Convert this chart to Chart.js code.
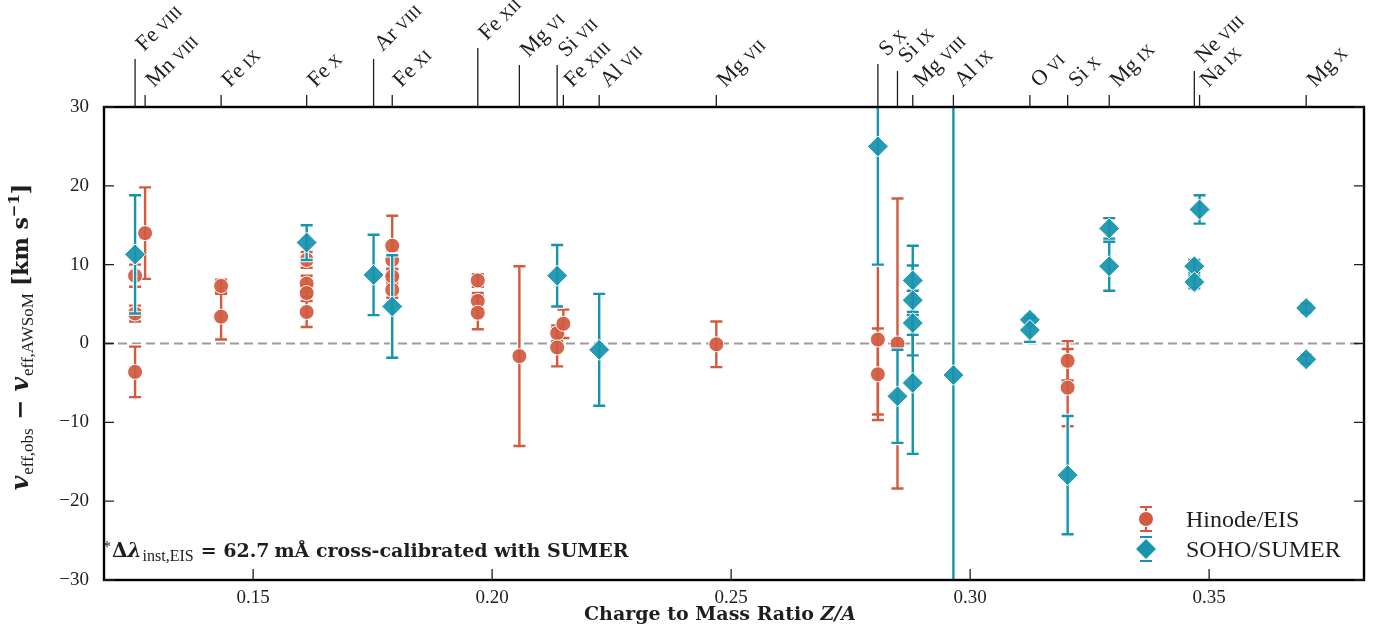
<!DOCTYPE html>
<html>
<head>
<meta charset="utf-8">
<script src="https://cdn.jsdelivr.net/npm/chart.js@4.4.1/dist/chart.umd.min.js"></script>
<style>
  html, body { margin: 0; padding: 0; background: #fff; }
</style>
</head>
<body>
<canvas id="myChart" width="1385" height="635"></canvas>
<script>
// axis ticks
var xTicks = [0.15, 0.20, 0.25, 0.30, 0.35];
var yTicks = [-30, -20, -10, 0, 10, 20, 30];

// ions marked along the top axis (charge to mass ratio)
var ionNames  = ["Fe", "Mn", "Fe", "Fe", "Ar", "Fe", "Fe", "Mg", "Si", "Fe", "Al", "Mg", "S", "Si", "Mg", "Al", "O", "Si", "Mg", "Ne", "Na", "Mg"];
var ionStages = ["viii", "viii", "ix", "x", "viii", "xi", "xii", "vi", "vii", "xiii", "vii", "vii", "x", "ix", "viii", "ix", "vi", "x", "ix", "viii", "ix", "x"];
var ionZA     = [0.1253, 0.1274, 0.1433, 0.1612, 0.1752, 0.1791, 0.1970, 0.2057, 0.2136, 0.2149, 0.2224, 0.2469,
                 0.2807, 0.2848, 0.2880, 0.2965, 0.3125, 0.3204, 0.3291, 0.3469, 0.3480, 0.3703];
// tick lengths (px) so crowded labels are staggered
var ionTickLen = [48, 12, 12, 12, 48, 12, 59, 42, 42, 12, 12, 12, 43, 36, 12, 12, 12, 12, 12, 36, 12, 12];

// Hinode/EIS
var eisZA  = [0.1253, 0.1253, 0.1253, 0.1274, 0.1433, 0.1433, 0.1612, 0.1612, 0.1612, 0.1612,
              0.1791, 0.1791, 0.1791, 0.1791, 0.1970, 0.1970, 0.1970, 0.2057, 0.2136, 0.2136,
              0.2149, 0.2469, 0.2807, 0.2807, 0.2848, 0.3204, 0.3204];
var eisV   = [8.6, 3.8, -3.6, 14.0, 7.3, 3.4, 10.6, 7.6, 6.4, 4.0,
              12.4, 10.6, 8.5, 6.8, 8.0, 5.4, 3.9, -1.6, 1.3, -0.5,
              2.5, -0.1, 0.5, -3.9, 0.0, -2.2, -5.6];
var eisErr = [1.4, 1.0, 3.2, 5.8, 0.8, 2.9, 1.0, 1.0, 1.0, 1.9,
              3.8, 1.2, 1.0, 1.0, 0.8, 1.0, 2.1, 11.4, 1.0, 2.4,
              1.8, 2.9, 9.5, 5.8, 18.4, 2.5, 4.9];

// SOHO/SUMER
var sumerZA  = [0.1253, 0.1612, 0.1752, 0.1791, 0.2136, 0.2224, 0.2807, 0.2848, 0.2880, 0.2880,
                0.2880, 0.2880, 0.2965, 0.3125, 0.3125, 0.3204, 0.3291, 0.3291, 0.3469, 0.3469,
                0.3480, 0.3703, 0.3703];
var sumerV   = [11.3, 12.8, 8.7, 4.7, 8.6, -0.8, 25.0, -6.7, 8.0, 5.5,
                2.6, -5.0, -4.0, 3.0, 1.7, -16.7, 14.6, 9.8, 9.8, 7.8,
                17.0, 4.5, -2.0];
var sumerErr = [7.5, 2.2, 5.1, 6.5, 3.9, 7.1, 15.0, 5.9, 4.4, 4.4,
                4.1, 9.0, 45.0, 0.6, 1.5, 7.5, 1.3, 3.1, 0.8, 0.8,
                1.8, 0.6, 0.6];

var RED = "#d15a3f";
var BLUE = "#1793ad";
var INK = "#1e1e1e";
var SERIF = '"Liberation Serif", "DejaVu Serif", serif';
var BOLDSERIF = '"DejaVu Serif", "Liberation Serif", serif';

function points(xs, ys) {
    return xs.map(function (x, i) { return { x: x, y: ys[i] }; });
}

function drawErrorBars(chart, xs, ys, errs, color) {
    var ctx = chart.ctx, sx = chart.scales.x, sy = chart.scales.y, a = chart.chartArea;
    ctx.save();
    ctx.beginPath();
    ctx.rect(a.left, a.top, a.right - a.left, a.bottom - a.top);
    ctx.clip();
    [["#ffffff", 4.6, 7.5], [color, 2.4, 6]].forEach(function (pass) {
        ctx.strokeStyle = pass[0];
        ctx.lineWidth = pass[1];
        var cap = pass[2];
        for (var i = 0; i < xs.length; i++) {
            var px = sx.getPixelForValue(xs[i]);
            var top = sy.getPixelForValue(ys[i] + errs[i]);
            var bot = sy.getPixelForValue(ys[i] - errs[i]);
            ctx.beginPath();
            ctx.moveTo(px, top); ctx.lineTo(px, bot);
            ctx.moveTo(px - cap, top); ctx.lineTo(px + cap, top);
            ctx.moveTo(px - cap, bot); ctx.lineTo(px + cap, bot);
            ctx.stroke();
        }
    });
    ctx.restore();
}

// writes a run of differently styled pieces, returns the end x
function drawRuns(ctx, runs, x, y) {
    runs.forEach(function (r) {
        ctx.font = r.f;
        ctx.fillText(r.t, x, y + (r.dy || 0));
        x += ctx.measureText(r.t).width + (r.gap || 0);
    });
    return x;
}
function runsWidth(ctx, runs) {
    var w = 0;
    runs.forEach(function (r) { ctx.font = r.f; w += ctx.measureText(r.t).width + (r.gap || 0); });
    return w;
}

var decor = {
    id: "decor",
    beforeDatasetsDraw: function (chart) {
        var ctx = chart.ctx, a = chart.chartArea, y0 = chart.scales.y.getPixelForValue(0);
        ctx.save();
        ctx.strokeStyle = "#9b9b9b";
        ctx.lineWidth = 1.8;
        ctx.setLineDash([9, 5]);
        ctx.beginPath();
        ctx.moveTo(a.left, y0); ctx.lineTo(a.right, y0);
        ctx.stroke();
        ctx.restore();
    },
    beforeDatasetDraw: function (chart, args) {
        if (args.index === 0) drawErrorBars(chart, eisZA, eisV, eisErr, RED);
        else drawErrorBars(chart, sumerZA, sumerV, sumerErr, BLUE);
    },
    afterDraw: function (chart) {
        var ctx = chart.ctx, a = chart.chartArea, sx = chart.scales.x, sy = chart.scales.y;
        ctx.save();

        // frame
        ctx.strokeStyle = "#000";
        ctx.lineWidth = 2.4;
        ctx.strokeRect(a.left, a.top, a.right - a.left, a.bottom - a.top);

        // inward ticks
        ctx.lineWidth = 1.3;
        ctx.strokeStyle = INK;
        ctx.beginPath();
        xTicks.forEach(function (v) {
            var px = sx.getPixelForValue(v);
            ctx.moveTo(px, a.bottom); ctx.lineTo(px, a.bottom - 11);
        });
        yTicks.forEach(function (v) {
            var py = sy.getPixelForValue(v);
            ctx.moveTo(a.left, py); ctx.lineTo(a.left + 10, py);
            ctx.moveTo(a.right, py); ctx.lineTo(a.right - 10, py);
        });
        ctx.stroke();

        // ion ticks and labels on top
        ctx.fillStyle = INK;
        ctx.textBaseline = "alphabetic";
        ctx.textAlign = "left";
        for (var i = 0; i < ionZA.length; i++) {
            var px = sx.getPixelForValue(ionZA[i]);
            var tipY = a.top - ionTickLen[i];
            ctx.beginPath();
            ctx.moveTo(px, a.top); ctx.lineTo(px, tipY);
            ctx.stroke();
            ctx.save();
            ctx.translate(px + 9, tipY - 7);
            ctx.rotate(-Math.PI / 4);
            drawRuns(ctx, [
                { t: ionNames[i], f: "22px " + SERIF, gap: 5 },
                { t: ionStages[i].toUpperCase(), f: "16.5px " + SERIF }
            ], 0, 0);
            ctx.restore();
        }

        // x title
        var xt = [
            { t: "Charge to Mass Ratio ", f: "bold 19px " + BOLDSERIF },
            { t: "Z/A", f: "italic bold 19px " + BOLDSERIF }
        ];
        drawRuns(ctx, xt, 720 - runsWidth(ctx, xt) / 2, 620);

        // y title
        var big = "bold italic 25px " + BOLDSERIF, sub = "17px " + SERIF;
        var yt = [
            { t: "v", f: big, gap: 1 },
            { t: "eff,obs", f: sub, dy: 5 },
            { t: " \u2212 ", f: "bold 24px " + BOLDSERIF },
            { t: "v", f: big, gap: 1 },
            { t: "eff,AWSoM", f: sub, dy: 5, gap: 7 },
            { t: "[km s", f: "bold 22px " + BOLDSERIF },
            { t: "\u22121", f: "bold 15px " + BOLDSERIF, dy: -9 },
            { t: "]", f: "bold 22px " + BOLDSERIF }
        ];
        ctx.save();
        ctx.translate(28, 337);
        ctx.rotate(-Math.PI / 2);
        drawRuns(ctx, yt, -runsWidth(ctx, yt) / 2, 0);
        ctx.restore();

        // calibration note
        drawRuns(ctx, [
            { t: "*", f: "16px " + SERIF, dy: -5, gap: 1 },
            { t: "\u0394", f: "bold 20px " + BOLDSERIF },
            { t: "\u03bb", f: "bold italic 20px " + BOLDSERIF, gap: 1 },
            { t: "inst,EIS", f: "16px " + SERIF, dy: 4, gap: 7 },
            { t: "= 62.7", f: "bold 19px " + BOLDSERIF, gap: 5 },
            { t: "m\u00c5 cross-calibrated with SUMER", f: "bold 19px " + BOLDSERIF }
        ], 103, 557);

        // legend
        var lx = 1146, ly = [519, 549];
        ctx.lineWidth = 2.2;
        ctx.strokeStyle = RED;
        ctx.beginPath();
        ctx.moveTo(lx, ly[0] - 12); ctx.lineTo(lx, ly[0] + 12);
        ctx.moveTo(lx - 6, ly[0] - 12); ctx.lineTo(lx + 6, ly[0] - 12);
        ctx.moveTo(lx - 6, ly[0] + 12); ctx.lineTo(lx + 6, ly[0] + 12);
        ctx.stroke();
        ctx.fillStyle = RED;
        ctx.strokeStyle = "#fff";
        ctx.lineWidth = 1;
        ctx.beginPath();
        ctx.arc(lx, ly[0], 7.5, 0, Math.PI * 2);
        ctx.fill(); ctx.stroke();

        ctx.strokeStyle = BLUE;
        ctx.lineWidth = 2.2;
        ctx.beginPath();
        ctx.moveTo(lx - 6, ly[1] - 12); ctx.lineTo(lx + 6, ly[1] - 12);
        ctx.moveTo(lx - 6, ly[1] + 12); ctx.lineTo(lx + 6, ly[1] + 12);
        ctx.stroke();
        ctx.fillStyle = BLUE;
        ctx.strokeStyle = "#fff";
        ctx.lineWidth = 1;
        ctx.beginPath();
        ctx.moveTo(lx - 10.5, ly[1]); ctx.lineTo(lx, ly[1] - 10.5);
        ctx.lineTo(lx + 10.5, ly[1]); ctx.lineTo(lx, ly[1] + 10.5);
        ctx.closePath();
        ctx.fill(); ctx.stroke();

        ctx.fillStyle = INK;
        ctx.font = "24px " + SERIF;
        ctx.fillText("Hinode/EIS", 1186, ly[0] + 8);
        ctx.fillText("SOHO/SUMER", 1186, ly[1] + 8);

        ctx.restore();
    }
};

new Chart("myChart", {
    type: "scatter",
    data: {
        datasets: [{
            label: "Hinode/EIS",
            data: points(eisZA, eisV),
            pointStyle: "circle",
            pointRadius: 7.5,
            pointHoverRadius: 7.5,
            backgroundColor: "rgba(209,90,63,0.93)",
            borderColor: "#ffffff",
            borderWidth: 1,
            order: 2
        }, {
            label: "SOHO/SUMER",
            data: points(sumerZA, sumerV),
            pointStyle: "rectRot",
            pointRadius: 10.5,
            pointHoverRadius: 10.5,
            backgroundColor: "rgba(23,147,173,0.93)",
            borderColor: "#ffffff",
            borderWidth: 1,
            order: 1
        }]
    },
    options: {
        responsive: false,
        animation: false,
        events: [],
        layout: { padding: { top: 107, right: 21, left: 0, bottom: 0 } },
        plugins: {
            legend: { display: false },
            tooltip: { enabled: false }
        },
        scales: {
            x: {
                type: "linear",
                position: "bottom",
                min: 0.1188,
                max: 0.3824,
                afterBuildTicks: function (s) { s.ticks = xTicks.map(function (v) { return { value: v }; }); },
                afterFit: function (s) { s.height = 55; },
                grid: { display: false, drawTicks: false },
                border: { display: false },
                ticks: {
                    padding: 7,
                    autoSkip: false,
                    maxRotation: 0,
                    color: INK,
                    font: { family: SERIF, size: 19 },
                    callback: function (v) { return v.toFixed(2); }
                }
            },
            y: {
                type: "linear",
                min: -30,
                max: 30,
                afterBuildTicks: function (s) { s.ticks = yTicks.map(function (v) { return { value: v }; }); },
                afterFit: function (s) { s.width = 104; },
                grid: { display: false, drawTicks: false },
                border: { display: false },
                ticks: {
                    padding: 15,
                    color: INK,
                    font: { family: SERIF, size: 19 },
                    callback: function (v) { return v < 0 ? "\u2212" + (-v) : "" + v; }
                }
            }
        }
    },
    plugins: [decor]
});
</script>
</body>
</html>
